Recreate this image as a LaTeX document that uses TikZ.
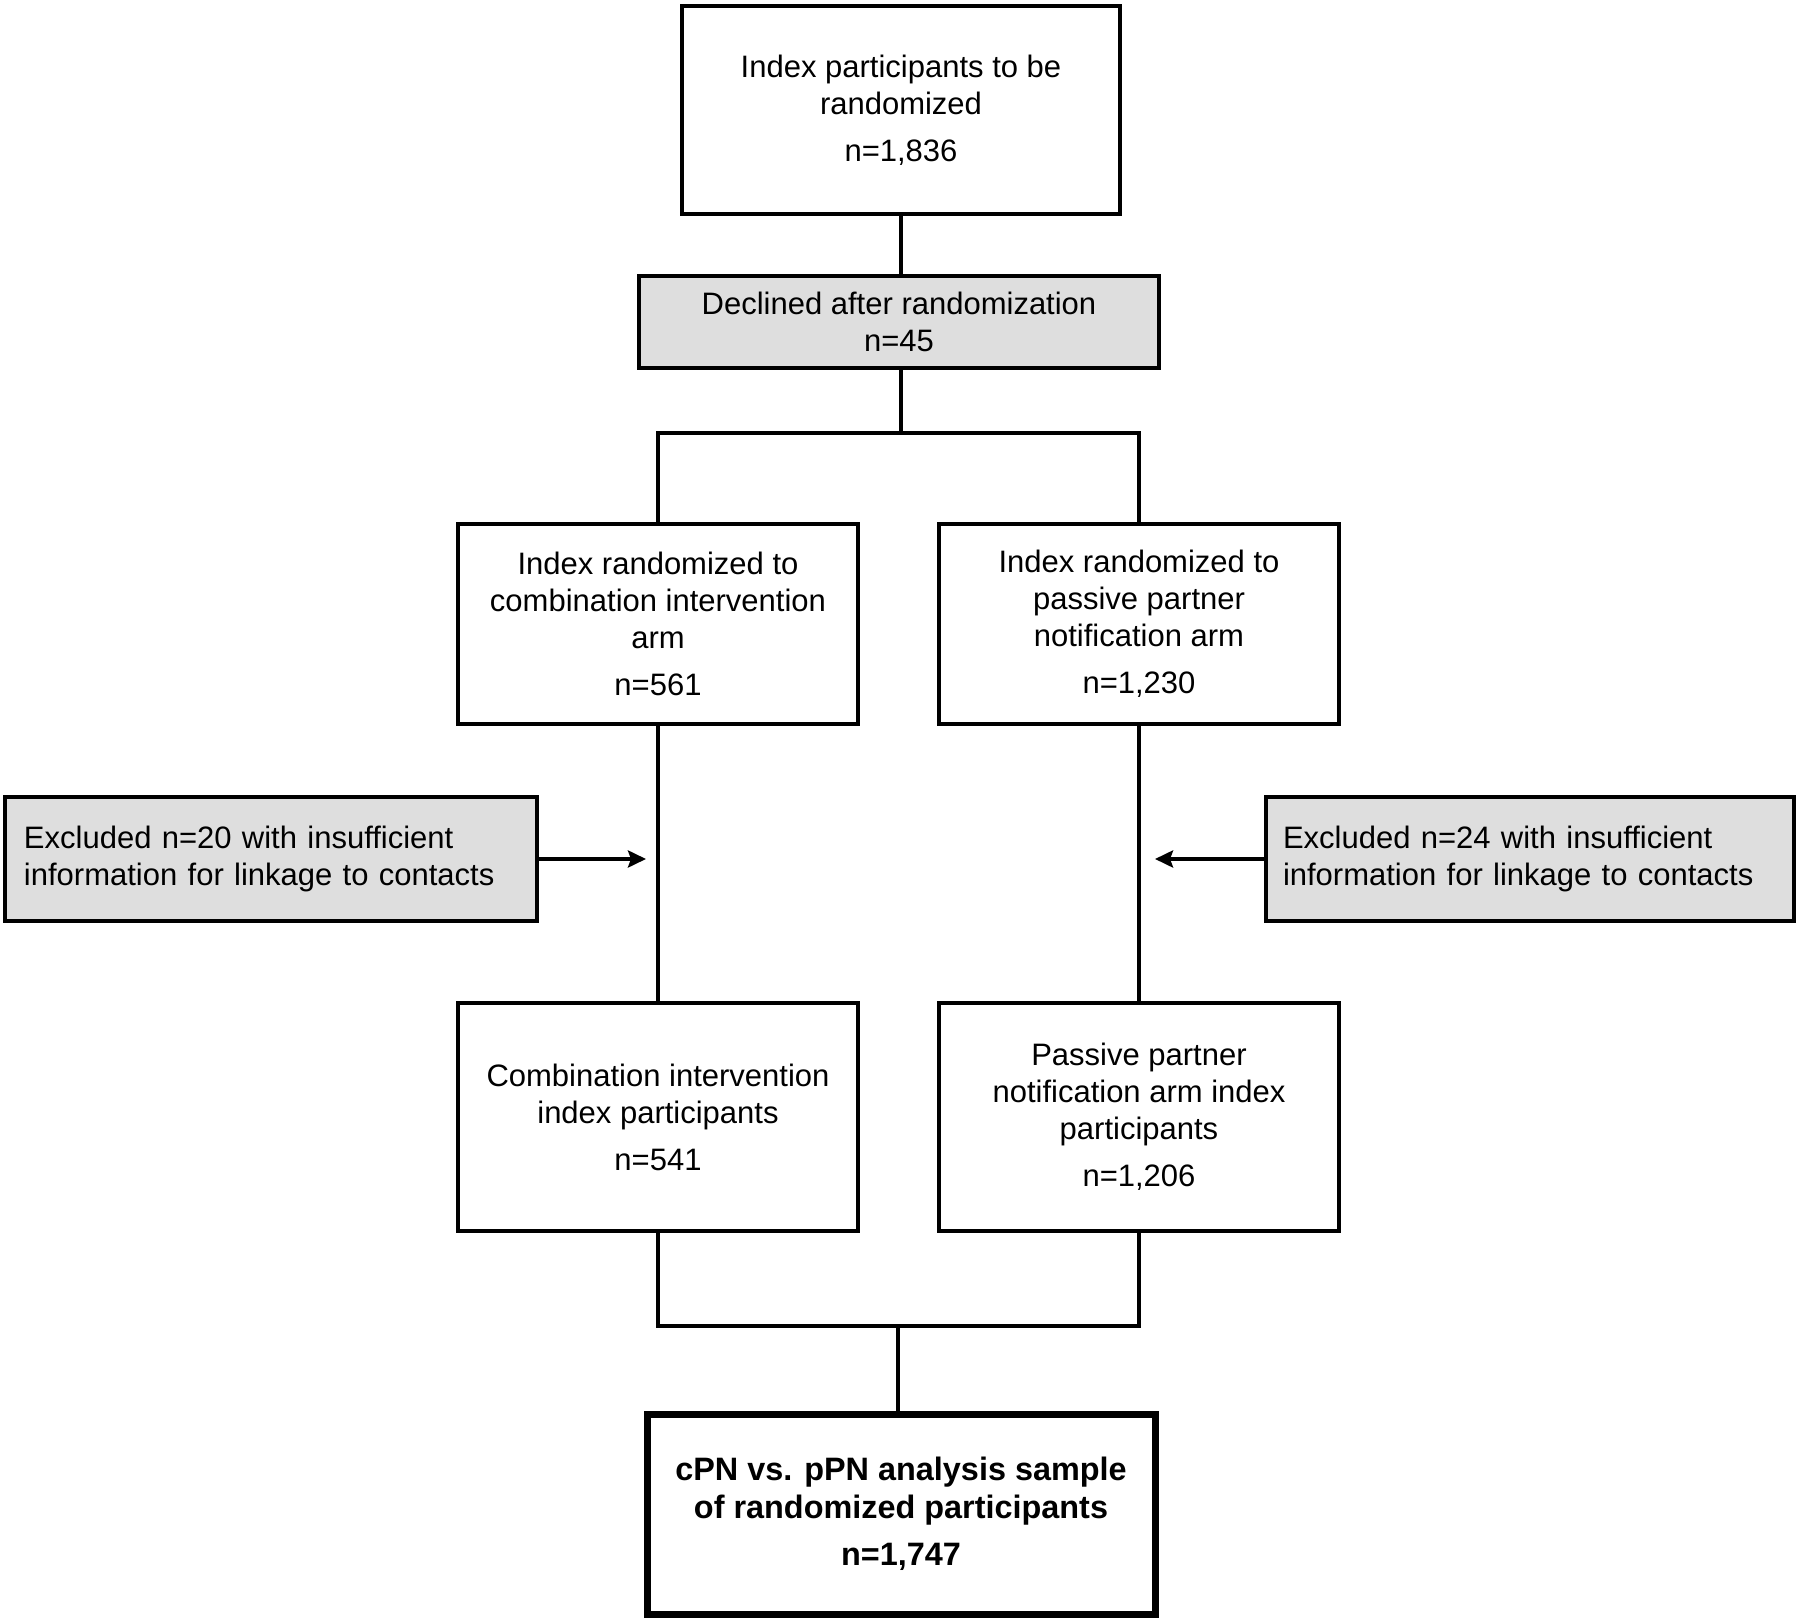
\documentclass[tikz,border=0pt]{standalone}
\usepackage{fontspec}
\setmainfont{Liberation Sans}
\usetikzlibrary{arrows.meta}
\definecolor{excludedGray}{RGB}{222,222,222}
\tikzstyle{flowchart} = [x = 0.5pt, y = -0.5pt]
\tikzstyle{boxStyle} = [draw=black, fill=white, line width=2pt, align=center, inner sep=0pt, font=\fontsize{15.5}{18.5}\selectfont]
\tikzstyle{grayBoxStyle} = [boxStyle, fill=excludedGray]
\tikzstyle{sideBoxStyle} = [grayBoxStyle, align=left, text width=247pt, minimum height=62pt]
\tikzstyle{finalBoxStyle} = [boxStyle, line width=3.5pt, font=\fontsize{16.2}{18.8}\selectfont\bfseries]
\tikzstyle{connector} = [line width=2pt]
\tikzstyle{excludeArrow} = [line width=2.3pt, -{Stealth[length=9pt,width=8.5pt,inset=1.5pt]}]
\newcommand{\nGap}{\\[5pt]}
\begin{document}
\begin{tikzpicture}[flowchart]
\useasboundingbox (0,0) rectangle (1800,1620);
% top of the chart
\node [boxStyle, minimum width=219pt, minimum height=104pt] (randomized) at (901,110) {Index participants to be\\ randomized\nGap n=1,836};
\node [grayBoxStyle, minimum width=260pt, minimum height=46pt] (declined) at (899,322) {Declined after randomization\\ n=45};
% the two arms
\node [boxStyle, minimum width=200pt, minimum height=100pt] (armCombination) at (658,624) {Index randomized to\\ combination intervention\\ arm\nGap n=561};
\node [boxStyle, minimum width=200pt, minimum height=100pt] (armPassive) at (1139,624) {Index randomized to\\ passive partner\\ notification arm\nGap n=1,230};
\node [sideBoxStyle, inner xsep=9.5pt] (excludedCombination) at (271,859) {Excluded n=20 with insufficient\\ information for linkage to contacts};
\node [sideBoxStyle, inner xsep=8.5pt] (excludedPassive) at (1530,859) {Excluded n=24 with insufficient\\ information for linkage to contacts};
\node [boxStyle, minimum width=200pt, minimum height=114pt] (indexCombination) at (658,1117) {Combination intervention\\ index participants\nGap n=541};
\node [boxStyle, minimum width=200pt, minimum height=114pt] (indexPassive) at (1139,1117) {Passive partner\\ notification arm index\\ participants\nGap n=1,206};
% analysis sample
\node [finalBoxStyle, minimum width=254pt, minimum height=100pt] (analysisSample) at (901,1514) {cPN vs. pPN analysis sample\\ of randomized participants\nGap n=1,747};
\coordinate (branch) at (901,433);
\coordinate (merge) at (898,1326);
\coordinate (tipCombination) at (646,859);
\coordinate (tipPassive) at (1155,859);
\draw [connector] (randomized.south) -- (randomized.south |- declined.north);
\draw [connector] (branch |- declined.south) -- (branch);
\draw [connector] (armCombination.north) |- (branch) -| (armPassive.north);
\draw [connector] (armCombination) -- (indexCombination);
\draw [connector] (armPassive) -- (indexPassive);
\draw [excludeArrow] (excludedCombination.east) -- (tipCombination);
\draw [excludeArrow] (excludedPassive.west) -- (tipPassive);
\draw [connector] (indexCombination.south) |- (merge) -| (indexPassive.south);
\draw [connector] (merge) -- (merge |- analysisSample.north);
\end{tikzpicture}
\end{document}
